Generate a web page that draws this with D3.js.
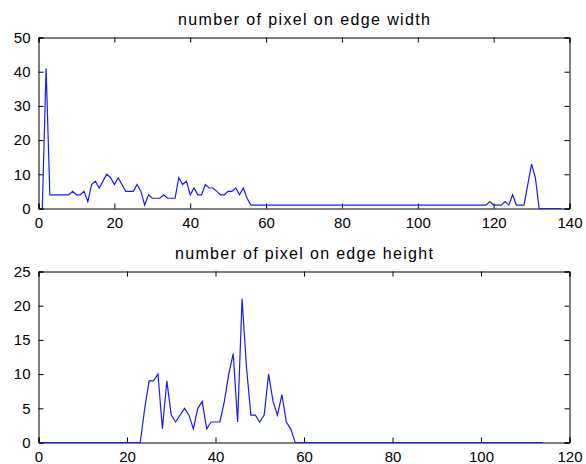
<!DOCTYPE html>
<html>
<head>
<meta charset="utf-8">
<script src="https://cdn.jsdelivr.net/npm/d3@7"></script>
<style>
  body { margin: 0; background: #fff; }
  text { font-family: "Liberation Sans", Arial, sans-serif; fill: #000; }
</style>
</head>
<body>
<div id="graph"></div>
<script>
var width = 586, height = 464

// pixel counts along the width, x = 1..138
var widthCounts = [
  0,41,4,4,4,4,4,4,5,4,
  4,5,2,7,8,6,8,10,9,7,
  9,7,5,5,5,7,5,1,4,3,
  3,3,4,3,3,3,9,7,8,4,
  6,4,4,7,6,6,5,4,4,5,
  5,6,4,6,3,1,1,1,1,1,
  1,1,1,1,1,1,1,1,1,1,
  1,1,1,1,1,1,1,1,1,1,
  1,1,1,1,1,1,1,1,1,1,
  1,1,1,1,1,1,1,1,1,1,
  1,1,1,1,1,1,1,1,1,1,
  1,1,1,1,1,1,1,1,
  2,1,1,1,2,1,4,1,1,1,
  7,13,9,0,0,0,0,0,0,0]
var widthStart = 1

// pixel counts along the height, x = 0..114
var heightCounts = [
  0,0,0,0,0,0,0,0,0,0,0,0,0,0,0,0,0,0,0,0,0,0,0,0,
  5,9,9,10,2,9,4,3,4,5,
  4,2,5,6,2,3,3,3,6,10,
  13,3,21,11,4,4,3,4,10,6,
  4,7,3,2,0,
  0,0,0,0,0,0,0,0,0,0,0,0,0,0,0,0,0,0,0,0,0,0,0,0,0,0,0,0,
  0,0,0,0,0,0,0,0,0,0,0,0,0,0,0,0,0,0,0,0,0,0,0,0,0,0,0,0]
var heightStart = 0

var topXTicks = [0, 20, 40, 60, 80, 100, 120, 140]
var topYTicks = [0, 10, 20, 30, 40, 50]
var botXTicks = [0, 20, 40, 60, 80, 100, 120]
var botYTicks = [0, 5, 10, 15, 20, 25]

var panels = [
  {title: 'number of pixel on edge width', values: widthCounts, start: widthStart,
   xDomain: [0, 140], yDomain: [0, 50], xTicks: topXTicks, yTicks: topYTicks,
   top: 37.5, bottom: 208.5, titleLen: 252},
  {title: 'number of pixel on edge height', values: heightCounts, start: heightStart,
   xDomain: [0, 120], yDomain: [0, 25], xTicks: botXTicks, yTicks: botYTicks,
   top: 271.5, bottom: 442.5, titleLen: 258}
]

var left = 38.5, right = 569.5, tk = 5

var svg = d3.select('#graph').append('svg')
    .attr('width', width).attr('height', height)

panels.forEach(function(p){
  var x = d3.scaleLinear().domain(p.xDomain).range([left, right])
  var y = d3.scaleLinear().domain(p.yDomain).range([p.bottom, p.top])
  var g = svg.append('g')

  var line = d3.line()
      .x(function(d, i){ return x(i + p.start) })
      .y(function(d){ return y(d) })

  // axes: bottom/left with labels, top/right mirrored ticks, all inward
  g.append('g').attr('transform', 'translate(0,' + p.bottom + ')')
      .call(d3.axisBottom(x).tickValues(p.xTicks).tickSize(-tk).tickPadding(9))
  g.append('g').attr('transform', 'translate(0,' + p.top + ')')
      .call(d3.axisTop(x).tickValues(p.xTicks).tickSize(-tk).tickFormat(''))
  g.append('g').attr('transform', 'translate(' + left + ',0)')
      .call(d3.axisLeft(y).tickValues(p.yTicks).tickSize(-tk).tickPadding(8))
  g.append('g').attr('transform', 'translate(' + right + ',0)')
      .call(d3.axisRight(y).tickValues(p.yTicks).tickSize(-tk).tickFormat(''))

  g.selectAll('.domain').attr('stroke', '#000').attr('stroke-width', 1)
  g.selectAll('.tick line').attr('stroke', '#000')
  g.selectAll('.tick text')
      .style('font-family', '"Liberation Sans", Arial, sans-serif')
      .style('font-size', '15px').attr('fill', '#000')

  g.append('path')
      .datum(p.values)
      .attr('d', line)
      .attr('fill', 'none')
      .attr('stroke', '#1a1aff')
      .attr('stroke-width', 1.2)

  g.append('text')
      .attr('x', (left + right) / 2)
      .attr('y', p.top - 13)
      .attr('text-anchor', 'middle')
      .attr('textLength', p.titleLen)
      .attr('lengthAdjust', 'spacing')
      .style('font-size', '16px')
      .text(p.title)
})
</script>
</body>
</html>
